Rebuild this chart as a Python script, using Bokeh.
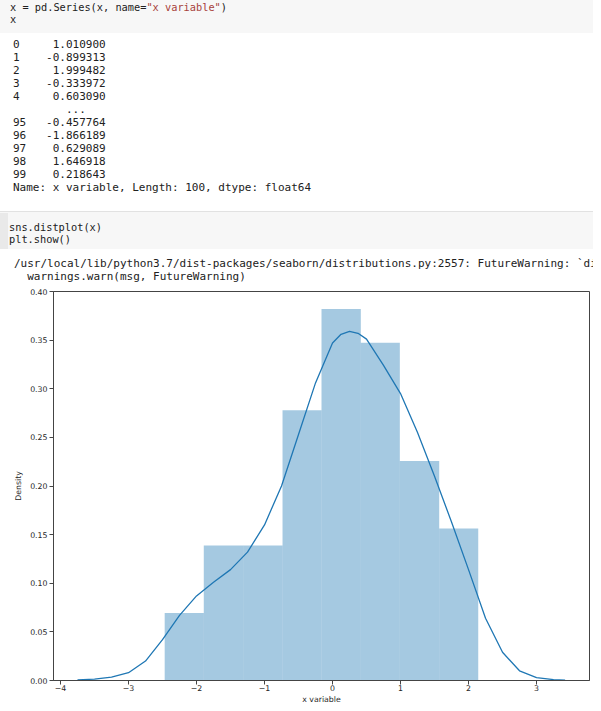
from bokeh.plotting import figure
from bokeh.models import Div, FixedTicker, Range1d
from bokeh.layouts import column
from bokeh.embed import file_html
from bokeh.resources import INLINE

# ---------------- data ----------------
series_head_index = [0, 1, 2, 3, 4]
series_head_values = [1.010900, -0.899313, 1.999482, -0.333972, 0.603090]
series_tail_index = [95, 96, 97, 98, 99]
series_tail_values = [-0.457764, -1.866189, 0.629089, 1.646918, 0.218643]

bin_edges = [-2.468, -1.893, -1.314, -0.735, -0.162, 0.416, 0.990, 1.569, 2.143]
bin_density = [0.0694, 0.1389, 0.1389, 0.2778, 0.3819, 0.3472, 0.2257, 0.1563]

kde_x = [-3.75, -3.5, -3.25, -3.0, -2.75, -2.5, -2.25, -2.0, -1.75, -1.5, -1.25,
         -1.0, -0.75, -0.5, -0.25, 0.0, 0.125, 0.25, 0.375, 0.5, 0.75, 1.0, 1.25,
         1.5, 1.75, 2.0, 2.25, 2.5, 2.75, 3.0, 3.25, 3.42]
kde_y = [0.0007, 0.0015, 0.0035, 0.008, 0.020, 0.042, 0.067, 0.087, 0.101, 0.114,
         0.132, 0.160, 0.200, 0.253, 0.306, 0.347, 0.356, 0.359, 0.357, 0.351,
         0.324, 0.295, 0.255, 0.210, 0.163, 0.114, 0.064, 0.029, 0.010, 0.003,
         0.001, 0.0003]

x_ticks = [-4, -3, -2, -1, 0, 1, 2, 3]
x_tick_labels = ["\u22124", "\u22123", "\u22122", "\u22121", "0", "1", "2", "3"]
y_ticks = [0.0, 0.05, 0.10, 0.15, 0.20, 0.25, 0.30, 0.35, 0.40]
y_tick_labels = ["0.00", "0.05", "0.10", "0.15", "0.20", "0.25", "0.30", "0.35", "0.40"]

# ---------------- notebook text (HTML) ----------------
MONO = "'DejaVu Sans Mono', monospace"
CODE_PX = 10.3
CH = CODE_PX * 1233 / 2048  # advance width of one mono character


def pre(top, left, size, lh, content, color="#212121"):
    return (f'<pre style="position:absolute;left:{left:.2f}px;top:{top}px;margin:0;'
            f'font-family:{MONO};font-size:{size}px;line-height:{lh}px;'
            f'color:{color};white-space:pre;">{content}</pre>')


out_lines = [f"{i:<2}{v:>12.6f}" for i, v in zip(series_head_index, series_head_values)]
out_lines.append("        ...")
out_lines += [f"{i:<2}{v:>12.6f}" for i, v in zip(series_tail_index, series_tail_values)]
out_lines.append("Name: x variable, Length: 100, dtype: float64")

c1a = "x = pd.Series(x, name="
c1b = '"x variable"'
c1c = ")"
code2 = "sns.distplot(x)\nplt.show()"
warn = ("/usr/local/lib/python3.7/dist-packages/seaborn/distributions.py:2557: "
        "FutureWarning: `di\n  warnings.warn(msg, FutureWarning)")

W = 593
x0 = 10
html = (
    f'<div style="position:relative;width:{W}px;height:284px;overflow:hidden;background:#ffffff;">'
    f'<div style="position:absolute;left:0;top:0;width:{W}px;height:33px;background:#f7f7f7;"></div>'
    + pre(1, x0, CODE_PX, 12, c1a)
    + pre(1, x0 + len(c1a) * CH, CODE_PX, 12, c1b, color="#a8423b")
    + pre(1, x0 + (len(c1a) + len(c1b)) * CH, CODE_PX, 12, c1c)
    + pre(13, x0, CODE_PX, 12, "x")
    + pre(37.5, 13, 11, 13, "\n".join(out_lines))
    + f'<div style="position:absolute;left:0;top:211px;width:{W}px;height:1px;background:#e2e2e2;"></div>'
    f'<div style="position:absolute;left:0;top:212px;width:{W}px;height:37px;background:#f7f7f7;"></div>'
    '<div style="position:absolute;left:0;top:213px;width:8px;height:36px;background:#e9e9e9;"></div>'
    + pre(221, 9, CODE_PX, 12, code2)
    + pre(256.5, 14, 11, 13, warn)
    + '</div>'
)

div = Div(text=html, width=W, height=284, margin=(0, 0, 0, 0))

# ---------------- chart ----------------
p = figure(width=W, height=422,
           min_border_left=53, min_border_right=4, min_border_top=7, min_border_bottom=22,
           x_range=Range1d(-4.103, 3.779), y_range=Range1d(0, 0.40),
           output_backend="svg", toolbar_location=None, margin=(0, 0, 0, 0))

p.quad(left=bin_edges[:-1], right=bin_edges[1:], bottom=0, top=bin_density,
       fill_color="#1f77b4", fill_alpha=0.4, line_color=None)
p.line(kde_x, kde_y, line_color="#1f77b4", line_width=1.3)

p.xgrid.visible = False
p.ygrid.visible = False
p.outline_line_color = "#444444"
p.outline_line_width = 1
p.background_fill_color = "#ffffff"
p.border_fill_color = "#ffffff"

p.xaxis.ticker = FixedTicker(ticks=x_ticks)
p.xaxis.major_label_overrides = {float(t): s for t, s in zip(x_ticks, x_tick_labels)}
p.yaxis.ticker = FixedTicker(ticks=y_ticks)
p.yaxis.major_label_overrides = {float(t): s for t, s in zip(y_ticks, y_tick_labels)}
p.xaxis.axis_label = "x variable"
p.yaxis.axis_label = "Density"

for ax in (p.xaxis[0], p.yaxis[0]):
    ax.major_tick_in = 0
    ax.major_tick_out = 4
    ax.minor_tick_line_color = None
    ax.axis_line_color = "#444444"
    ax.major_tick_line_color = "#444444"
    ax.major_label_text_font = "DejaVu Sans"
    ax.major_label_text_font_size = "7.8px"
    ax.major_label_text_color = "#262626"
    ax.axis_label_text_font = "DejaVu Sans"
    ax.axis_label_text_font_size = "7.8px"
    ax.axis_label_text_font_style = "normal"
    ax.axis_label_text_color = "#262626"

p.xaxis.major_label_standoff = 0
p.xaxis.axis_label_standoff = 1
p.yaxis.major_label_standoff = 2
p.yaxis.axis_label_standoff = 4

layout = column(div, p, spacing=0)
open("out.html", "w").write(file_html(layout, INLINE))
